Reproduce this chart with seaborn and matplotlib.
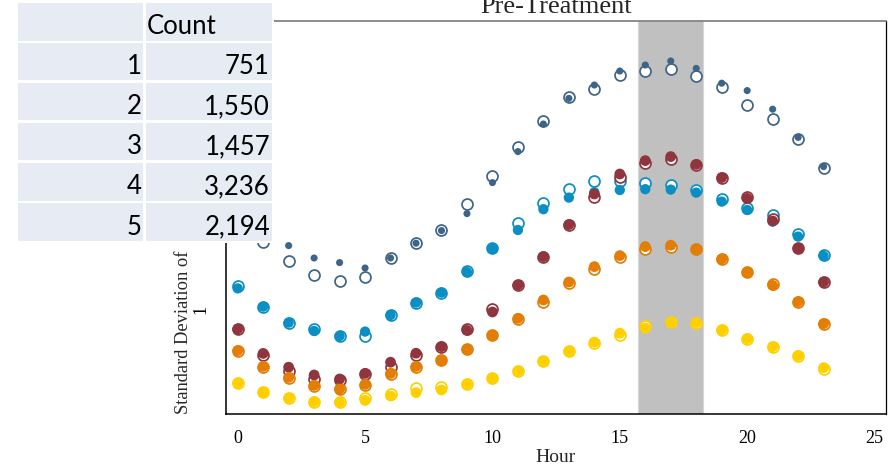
import matplotlib
matplotlib.use("Agg")
import matplotlib.pyplot as plt
import seaborn as sns
import pandas as pd
from matplotlib.patches import Rectangle

# ---------------- data ----------------
hours = list(range(24))

db_filled = [1.436, 1.386, 1.318, 1.256, 1.233, 1.206, 1.256, 1.330, 1.393, 1.478, 1.633, 1.788,
             1.926, 2.054, 2.121, 2.191, 2.221, 2.241, 2.204, 2.130, 2.093, 2.000, 1.859, 1.713]
db_hollow = [1.416, 1.338, 1.240, 1.171, 1.143, 1.161, 1.256, 1.333, 1.396, 1.525, 1.668, 1.813,
             1.941, 2.061, 2.103, 2.170, 2.193, 2.201, 2.166, 2.113, 2.020, 1.951, 1.853, 1.706]

lb_filled = [1.104, 1.013, 0.933, 0.891, 0.866, 0.888, 0.971, 1.033, 1.083, 1.186, 1.303, 1.396,
             1.500, 1.558, 1.585, 1.596, 1.600, 1.598, 1.583, 1.538, 1.496, 1.438, 1.363, 1.266]
lb_hollow = [1.114, 1.013, 0.933, 0.901, 0.866, 0.868, 0.971, 1.033, 1.083, 1.189, 1.306, 1.433,
             1.533, 1.600, 1.640, 1.643, 1.630, 1.623, 1.596, 1.551, 1.508, 1.470, 1.376, 1.269]

dr_filled = [0.901, 0.779, 0.710, 0.671, 0.651, 0.679, 0.735, 0.780, 0.813, 0.894, 0.986, 1.121,
             1.263, 1.423, 1.576, 1.676, 1.743, 1.763, 1.724, 1.658, 1.554, 1.441, 1.304, 1.136]
dr_hollow = [0.901, 0.771, 0.693, 0.651, 0.646, 0.674, 0.713, 0.773, 0.813, 0.901, 1.000, 1.119,
             1.263, 1.421, 1.563, 1.663, 1.730, 1.750, 1.719, 1.656, 1.559, 1.450, 1.304, 1.134]

or_filled = [0.793, 0.714, 0.659, 0.619, 0.601, 0.624, 0.679, 0.714, 0.746, 0.800, 0.870, 0.954,
             1.046, 1.136, 1.213, 1.268, 1.313, 1.320, 1.300, 1.251, 1.185, 1.119, 1.038, 0.928]
or_hollow = [0.791, 0.711, 0.656, 0.616, 0.599, 0.619, 0.674, 0.711, 0.746, 0.799, 0.869, 0.951,
             1.038, 1.129, 1.201, 1.260, 1.303, 1.311, 1.300, 1.251, 1.185, 1.124, 1.034, 0.928]

yl_filled = [0.631, 0.586, 0.556, 0.538, 0.534, 0.544, 0.566, 0.583, 0.596, 0.625, 0.651, 0.690,
             0.740, 0.790, 0.835, 0.880, 0.906, 0.933, 0.933, 0.896, 0.853, 0.813, 0.768, 0.708]
yl_hollow = [0.631, 0.586, 0.556, 0.538, 0.535, 0.556, 0.576, 0.606, 0.610, 0.626, 0.654, 0.691,
             0.739, 0.789, 0.829, 0.873, 0.916, 0.938, 0.933, 0.896, 0.853, 0.811, 0.764, 0.701]

table_rows = ["1", "2", "3", "4", "5"]
table_counts = [751, 1550, 1457, 3236, 2194]
table_header = "Count"

x_ticks = [0, 5, 10, 15, 20, 25]
y_ticks = [1]
peak_start, peak_end = 15.7, 18.27

title = "Pre-Treatment"
x_label = "Hour"
y_label = "Standard Deviation of"

series = [
    ("dark blue", db_filled, db_hollow, "#3e6487", 26),
    ("light blue", lb_filled, lb_hollow, "#0b8fc3", 55),
    ("dark red", dr_filled, dr_hollow, "#90353d", 60),
    ("orange", or_filled, or_hollow, "#e27d05", 60),
    ("yellow", yl_filled, yl_hollow, "#ffd000", 60),
]

rows = []
for name, filled, hollow, _, _ in series:
    for h, v in zip(hours, hollow):
        rows.append((name, "hollow", h, v))
    for h, v in zip(hours, filled):
        rows.append((name, "filled", h, v))
df = pd.DataFrame(rows, columns=["series", "kind", "hour", "sd"])

# ---------------- figure ----------------
sns.set_style("white")
plt.rcParams["font.family"] = ["Liberation Serif", "DejaVu Serif"]

W, H = 896, 466
fig = plt.figure(figsize=(W / 100, H / 100), dpi=100)
ax_l, ax_r, ax_t, ax_b = 225.5, 886.0, 20.7, 414.3
ax = fig.add_axes([ax_l / W, 1 - ax_b / H, (ax_r - ax_l) / W, (ax_b - ax_t) / H])

ax.axvspan(peak_start, peak_end, facecolor="#c0c0c0", edgecolor="#d6d6d6", lw=0.8, zorder=0)

for name, _, _, color, fsize in series:
    sub = df[df.series == name]
    sns.scatterplot(data=sub[sub.kind == "hollow"], x="hour", y="sd", ax=ax, marker="o",
                    s=62, facecolor="white", edgecolor=color, linewidth=1.25,
                    legend=False, zorder=2)
    sns.scatterplot(data=sub[sub.kind == "filled"], x="hour", y="sd", ax=ax, marker="o",
                    s=fsize, color=color, edgecolor="none", linewidth=0,
                    legend=False, zorder=3)

ax.set_xlim(-0.479, 25.45)
ax.set_ylim(0.4745, 2.4425)
ax.set_xticks(x_ticks)
ax.set_xticklabels([str(t) for t in x_ticks])
ax.set_yticks(y_ticks)
ax.set_yticklabels([str(t) for t in y_ticks], rotation=90, va="center")
ax.tick_params(axis="both", direction="out", length=5, width=1.0, color="#6f6f6f",
               labelsize=13, pad=6.5, labelcolor="black")
ax.minorticks_off()

for side in ["left", "bottom", "right"]:
    ax.spines[side].set_color("black")
    ax.spines[side].set_linewidth(1.1)
ax.spines["right"].set_linewidth(0.9)
ax.spines["top"].set_color("#7a7a7a")
ax.spines["top"].set_linewidth(1.2)
ax.grid(False)

ax.set_title(title, fontsize=19, pad=5.8)
ax.set_xlabel(x_label, fontsize=14, labelpad=1.5)
ax.set_ylabel(y_label, fontsize=13.3, loc="bottom", labelpad=0.5)

# ---------------- table overlay ----------------
t_l, t_r, t_t, t_b = 16, 274, 0, 243
tax = fig.add_axes([t_l / W, 1 - t_b / H, (t_r - t_l) / W, (t_b - t_t) / H])
tax.set_xlim(t_l, t_r)
tax.set_ylim(t_b, t_t)
tax.axis("off")
tax.add_patch(Rectangle((t_l, t_t), t_r - t_l, t_b - t_t, facecolor="white", edgecolor="none", zorder=0))

cell_color = "#e7ecf4"
col_bounds = [(18.3, 143.3), (145.7, 271.7)]
row_tops = [3.3, 42.7, 82.7, 123.0, 163.2, 203.3]
row_h = 37.4
for rt in row_tops:
    for c0, c1 in col_bounds:
        tax.add_patch(Rectangle((c0, rt), c1 - c0, row_h, facecolor=cell_color,
                                edgecolor="none", zorder=1))

tfont = dict(family=["Lato", "DejaVu Sans"], fontsize=18.5, color="black", zorder=2)
tax.text(146.3, row_tops[0] + 30.8, table_header, ha="left", va="baseline", **tfont)
for i, (lab, cnt) in enumerate(zip(table_rows, table_counts)):
    base = row_tops[i + 1] + 31.3
    tax.text(142.0, base, lab, ha="right", va="baseline", **tfont)
    tax.text(270.0, base, f"{cnt:,}", ha="right", va="baseline", **tfont)

fig.savefig("out.png", dpi=100)
